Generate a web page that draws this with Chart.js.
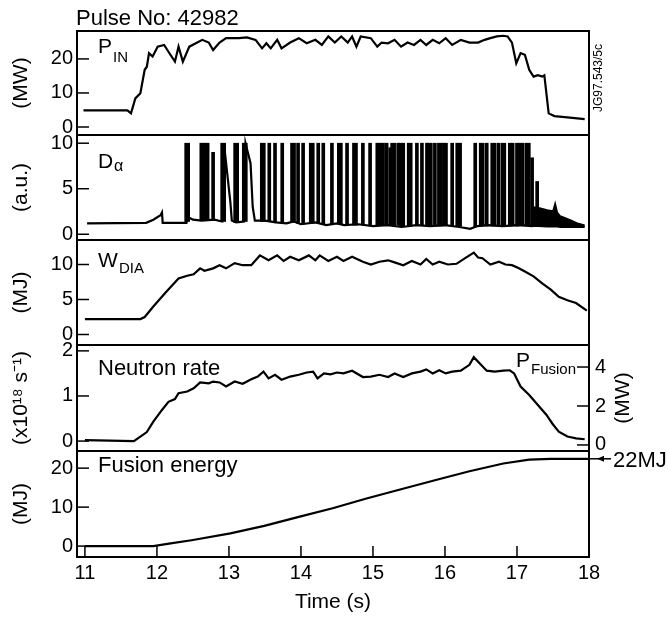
<!DOCTYPE html>
<html>
<head>
<meta charset="utf-8">
<script src="https://cdn.jsdelivr.net/npm/chart.js@4.4.1/dist/chart.umd.min.js"></script>
<style>
  body { margin: 0; background: #fff; }
  #wrap { position: relative; width: 669px; height: 621px; overflow: hidden; }
  #wrap canvas { position: absolute; left: 0; }
</style>
</head>
<body>
<div id="wrap"></div>
<script>
const FONT = '"Liberation Sans", Arial, sans-serif';

// time axis (s)
const xMin = 10.89, xMax = 18.0;
const timeTicks = [11, 12, 13, 14, 15, 16, 17, 18];

// P_IN (MW)
const pinTime = [10.98, 11.59, 11.64, 11.70, 11.77, 11.83, 11.86, 11.89, 11.94, 12.01,
  12.10, 12.16, 12.25, 12.30, 12.36, 12.45, 12.54, 12.63, 12.72, 12.78,
  12.87, 12.96, 13.14, 13.25, 13.37, 13.46, 13.52, 13.58, 13.67, 13.73,
  13.85, 13.97, 14.08, 14.20, 14.29, 14.38, 14.47, 14.56, 14.65, 14.71,
  14.77, 14.83, 14.97, 15.06, 15.12, 15.21, 15.30, 15.39, 15.48, 15.57,
  15.66, 15.74, 15.83, 15.92, 16.01, 16.10, 16.22, 16.34, 16.46, 16.55,
  16.63, 16.72, 16.81, 16.87, 16.93, 16.99, 17.05, 17.11, 17.17, 17.23,
  17.29, 17.35, 17.38, 17.44, 17.52, 17.70, 17.94];
const pinValue = [4.9, 4.9, 4.0, 8.4, 9.9, 16.8, 17.7, 21.7, 20.7, 23.6,
  24.1, 22.1, 19.2, 23.6, 19.2, 23.6, 24.6, 25.6, 24.8, 22.6,
  24.8, 26.1, 26.1, 26.3, 25.6, 23.1, 24.6, 23.1, 25.6, 23.1,
  24.8, 26.1, 24.6, 25.6, 24.1, 26.6, 24.8, 26.6, 24.8, 26.6,
  23.6, 26.6, 26.1, 23.6, 24.8, 24.6, 25.6, 23.6, 24.8, 24.1,
  25.6, 24.1, 25.6, 24.6, 26.1, 24.1, 25.6, 24.8, 24.8, 25.6,
  26.1, 26.6, 26.8, 26.6, 24.8, 18.7, 21.7, 21.2, 16.8, 14.8,
  15.2, 14.8, 15.2, 4.0, 3.2, 2.8, 2.3];

// D_alpha (a.u.) - baseline trace
const daTime = [11.03, 11.85, 11.95, 12.05, 12.07, 12.08, 12.41, 12.43, 12.50, 12.62,
  12.80, 12.90, 12.91, 12.93, 13.02, 13.04, 13.10, 13.21, 13.23, 13.30,
  13.33, 13.36, 13.50, 13.65, 13.80, 13.90, 14.00, 14.20, 14.35, 14.50,
  14.60, 14.80, 15.00, 15.20, 15.40, 15.60, 15.80, 16.00, 16.20, 16.35,
  16.45, 16.60, 16.80, 17.00, 17.22];
const daValue = [1.2, 1.25, 1.6, 2.1, 2.4, 1.25, 1.25, 1.9, 1.6, 1.5,
  1.6, 1.4, 1.4, 10, 3.5, 1.5, 1.3, 1.4, 10, 7.8,
  3.0, 1.5, 1.5, 1.3, 1.2, 1.4, 1.1, 1.3, 1.0, 1.2,
  1.0, 1.1, 0.9, 1.0, 0.8, 1.0, 0.9, 1.0, 0.8, 0.6,
  0.9, 1.0, 0.9, 1.0, 0.9];
// D_alpha ELM bursts
const elmTime = [12.42, 12.63, 12.69, 12.78, 12.92, 13.10, 13.22, 13.47, 13.56, 13.64,
  13.74, 13.89, 13.96, 14.03, 14.15, 14.24, 14.31, 14.43, 14.54, 14.64,
  14.75, 14.86, 14.96, 15.06, 15.10, 15.14, 15.19, 15.24, 15.28, 15.35,
  15.38, 15.42, 15.51, 15.61, 15.68, 15.75, 15.79, 15.86, 15.93, 16.00,
  16.10, 16.17, 16.21, 16.42, 16.51, 16.58, 16.67, 16.74, 16.81, 16.90,
  16.94, 17.00, 17.04, 17.08, 17.15, 17.21, 17.28];
const elmPeak = [10, 10, 10, 9, 10, 10, 10, 10, 10, 10,
  10, 10, 10, 10, 10, 10, 10, 10, 10, 10,
  10, 10, 10, 10, 10, 10, 10, 9.5, 10, 10,
  10, 10, 10, 10, 10, 10, 10, 10, 10, 10,
  10, 10, 10, 10, 10, 10, 10, 10, 10, 10,
  10, 10, 10, 10, 10, 8.4, 5.8];
const elmBase = [1.4, 1.5, 1.5, 1.5, 1.4, 1.3, 1.4, 1.4, 1.4, 1.3,
  1.2, 1.3, 1.2, 1.1, 1.2, 1.2, 1.1, 1.1, 1.1, 1.0,
  1.0, 1.0, 1.0, 1.0, 1.0, 1.0, 1.0, 1.0, 1.0, 1.0,
  0.9, 0.9, 0.9, 1.0, 1.0, 0.9, 0.9, 0.9, 0.9, 1.0,
  1.0, 0.9, 0.9, 0.8, 0.9, 0.9, 0.9, 0.9, 0.9, 0.9,
  0.9, 0.9, 1.0, 1.0, 1.0, 0.9, 0.9];
const elmWide = [1, 1, 1, 0, 1, 1, 1, 1, 0, 0,
  0, 1, 0, 0, 1, 0, 0, 0, 1, 0,
  1, 0, 0, 0, 0, 0, 0, 0, 1, 0,
  0, 0, 1, 0, 0, 0, 1, 0, 1, 1,
  0, 0, 0, 0, 1, 0, 1, 0, 1, 0,
  0, 0, 0, 0, 1, 0, 0];
// D_alpha dense grassy ELMs at the end of the pulse
const daTailTime = [17.22, 17.30, 17.42, 17.50, 17.53, 17.56, 17.60, 17.74, 17.83, 17.94];
const daTailTop = [3.0, 2.9, 2.67, 2.56, 3.4, 2.4, 2.0, 1.57, 1.24, 1.0];
const daTailBottom = [0.9, 0.9, 0.85, 0.85, 0.85, 0.85, 0.8, 0.8, 0.8, 0.8];

// W_DIA (MJ)
const wdiaTime = [11.00, 11.77, 11.83, 11.95, 12.13, 12.30, 12.42, 12.51, 12.60, 12.66,
  12.78, 12.87, 12.96, 13.08, 13.19, 13.31, 13.43, 13.55, 13.67, 13.76,
  13.85, 13.97, 14.11, 14.20, 14.26, 14.38, 14.50, 14.59, 14.71, 14.86,
  14.97, 15.09, 15.21, 15.30, 15.42, 15.54, 15.66, 15.74, 15.83, 15.92,
  16.04, 16.16, 16.28, 16.40, 16.46, 16.52, 16.63, 16.75, 16.84, 16.93,
  17.02, 17.11, 17.23, 17.35, 17.47, 17.58, 17.70, 17.82, 17.97];
const wdiaValue = [2.2, 2.2, 2.5, 4.0, 6.1, 8.0, 8.4, 8.6, 9.45, 9.1,
  9.45, 9.9, 9.45, 10.2, 9.9, 9.9, 11.3, 10.6, 11.3, 10.5,
  11.1, 10.6, 11.3, 10.6, 11.3, 10.5, 11.1, 10.5, 11.1, 10.4,
  10.0, 10.4, 10.6, 10.3, 9.9, 10.5, 10.0, 10.8, 10.0, 10.4,
  10.0, 10.1, 10.9, 11.7, 11.0, 10.9, 10.0, 10.4, 10.0, 9.9,
  9.5, 9.0, 8.3, 7.3, 6.4, 5.4, 4.9, 4.5, 3.4];

// Neutron rate (x10^18 s^-1)
const neutTime = [11.00, 11.68, 11.77, 11.86, 11.95, 12.07, 12.16, 12.25, 12.30, 12.42,
  12.51, 12.60, 12.72, 12.78, 12.87, 12.96, 13.08, 13.19, 13.31, 13.40,
  13.48, 13.55, 13.64, 13.73, 13.85, 13.97, 14.08, 14.17, 14.23, 14.32,
  14.41, 14.50, 14.59, 14.71, 14.86, 14.97, 15.09, 15.21, 15.30, 15.42,
  15.54, 15.66, 15.74, 15.83, 15.92, 16.01, 16.10, 16.22, 16.34, 16.40,
  16.49, 16.58, 16.69, 16.81, 16.90, 16.96, 17.05, 17.17, 17.29, 17.41,
  17.49, 17.58, 17.70, 17.82, 17.94];
const neutValue = [0.02, 0.0, 0.1, 0.2, 0.43, 0.69, 0.87, 0.93, 1.06, 1.1,
  1.17, 1.3, 1.28, 1.32, 1.3, 1.21, 1.32, 1.27, 1.37, 1.43,
  1.54, 1.39, 1.47, 1.36, 1.43, 1.47, 1.52, 1.54, 1.39, 1.5,
  1.48, 1.52, 1.5, 1.56, 1.42, 1.43, 1.47, 1.42, 1.5, 1.42,
  1.5, 1.54, 1.59, 1.5, 1.57, 1.5, 1.54, 1.56, 1.69, 1.86,
  1.71, 1.56, 1.54, 1.56, 1.57, 1.5, 1.21, 1.02, 0.8, 0.58,
  0.39, 0.21, 0.1, 0.06, 0.04];

// Fusion energy (MJ)
const feTime = [11.00, 11.95, 12.19, 12.48, 13.02, 13.49, 13.97, 14.44, 14.91, 15.39, 15.86, 16.34, 16.81, 17.17, 17.47, 18.00];
const feValue = [0, 0, 0.68, 1.5, 3.25, 5.2, 7.5, 9.7, 12.2, 14.6, 16.9, 19.2, 21.2, 22.2, 22.4, 22.4];

// axis ticks
const pinTicks = [0, 10, 20];
const daTicks = [0, 5, 10];
const wdiaTicks = [0, 5, 10];
const neutTicks = [0, 1, 2];
const pfusTicks = [0, 2, 4];
const feTicks = [0, 10, 20];

const W = 669;
const panelTop = [31, 135, 240, 345, 451];
const panelBottom = [135, 240, 345, 451, 557];
const wrap = document.getElementById('wrap');

function xy(ts, vs) {
  return ts.map((t, i) => ({ x: t, y: vs[i] }));
}

function lineSet(ts, vs, extra) {
  return Object.assign({
    type: 'line', data: xy(ts, vs), borderColor: '#000', borderWidth: 2.2,
    pointRadius: 0, fill: false, tension: 0
  }, extra || {});
}

function elmBars(wide) {
  const pts = [];
  elmTime.forEach((t, i) => {
    if (elmWide[i] === wide) pts.push({ x: t, y: [elmBase[i], elmPeak[i]] });
  });
  return {
    type: 'bar', data: pts, backgroundColor: '#000', borderWidth: 0,
    barThickness: wide ? 5 : 3, grouped: false
  };
}

function fixedTicks(values) {
  return s => { s.ticks = values.map(v => ({ value: v })); };
}

function boxPlugin(offset, texts, extra) {
  return {
    id: 'box',
    afterDraw(chart) {
      const { ctx, chartArea: a } = chart;
      ctx.save();
      ctx.strokeStyle = '#000';
      ctx.fillStyle = '#000';
      ctx.lineWidth = 1.5;
      // inward tick marks
      Object.values(chart.scales).forEach(s => {
        if (!s.options.display) return;
        s.ticks.forEach(t => {
          const p = s.getPixelForValue(t.value);
          ctx.beginPath();
          if (s.position === 'left') { ctx.moveTo(a.left, p); ctx.lineTo(a.left + 12, p); }
          else if (s.position === 'right') { ctx.moveTo(a.right - 12, p); ctx.lineTo(a.right, p); }
          else { ctx.moveTo(p, a.bottom); ctx.lineTo(p, a.bottom - 11); }
          ctx.stroke();
        });
      });
      ctx.lineWidth = 2;
      ctx.strokeRect(a.left, a.top, a.right - a.left, a.bottom - a.top);
      texts.forEach(tx => {
        ctx.save();
        ctx.font = tx.size + 'px ' + FONT;
        ctx.textAlign = tx.align || 'left';
        ctx.textBaseline = tx.base || 'alphabetic';
        ctx.translate(tx.x, tx.y - offset);
        if (tx.rot) ctx.rotate(tx.rot);
        ctx.fillText(tx.text, 0, 0);
        ctx.restore();
      });
      if (extra) extra(ctx, chart, offset);
      ctx.restore();
    }
  };
}

function panel(i, cfg) {
  const cTop = i === 0 ? 0 : panelTop[i] - 20;
  const cBottom = i === 4 ? 621 : panelBottom[i] + 20;
  const canvas = document.createElement('canvas');
  canvas.width = W;
  canvas.height = cBottom - cTop;
  canvas.style.top = cTop + 'px';
  wrap.appendChild(canvas);

  const tickFont = { family: FONT, size: 20 };
  const titleFont = { family: FONT, size: 21 };
  const noGrid = { display: false, drawTicks: false };
  const scales = {
    x: {
      type: 'linear', min: xMin, max: xMax, offset: false, display: i === 4,
      grid: noGrid, border: { display: false },
      afterBuildTicks: fixedTicks(timeTicks),
      afterFit: s => { if (i === 4) s.height = 64; },
      ticks: { font: tickFont, color: '#000', padding: 4, autoSkip: false, maxRotation: 0 },
      title: { display: true, text: 'Time (s)', font: titleFont, color: '#000', padding: { top: 0, bottom: 6 } }
    },
    y: {
      type: 'linear', position: 'left', min: cfg.yMin, max: cfg.yMax,
      grid: noGrid, border: { display: false },
      afterBuildTicks: fixedTicks(cfg.yTicks),
      afterFit: s => { s.width = 77; },
      ticks: { font: tickFont, color: '#000', padding: 4 },
      title: { display: true, text: cfg.yTitle, font: titleFont, color: '#000', padding: { top: 9, bottom: 0 } }
    }
  };
  if (cfg.right) {
    scales.y1 = {
      type: 'linear', position: 'right', min: cfg.right.min, max: cfg.right.max,
      grid: noGrid, border: { display: false },
      afterBuildTicks: fixedTicks(cfg.right.ticks),
      afterFit: s => { s.width = 80; },
      ticks: { font: tickFont, color: '#000', padding: 6 }
    };
  }

  return new Chart(canvas, {
    type: 'line',
    data: { datasets: cfg.datasets },
    options: {
      responsive: false,
      animation: false,
      events: [],
      layout: {
        padding: {
          top: panelTop[i] - cTop,
          bottom: i === 4 ? 0 : cBottom - panelBottom[i],
          left: 0,
          right: cfg.right ? 0 : 80
        }
      },
      scales: scales,
      plugins: { legend: { display: false }, tooltip: { enabled: false } }
    },
    plugins: [boxPlugin(cTop, cfg.texts || [], cfg.extra)]
  });
}

// P_IN
panel(0, {
  yMin: -2.35, yMax: 28.2, yTicks: pinTicks, yTitle: '(MW)',
  datasets: [lineSet(pinTime, pinValue)],
  texts: [
    { text: 'Pulse No: 42982', x: 76, y: 25, size: 22 },
    { text: 'P', x: 98, y: 53, size: 21 },
    { text: 'IN', x: 113, y: 62, size: 15 },
    { text: 'JG97.543/5c', x: 602, y: 112, size: 12, rot: -Math.PI / 2 }
  ]
});

// D_alpha
panel(1, {
  yMin: -0.63, yMax: 10.9, yTicks: daTicks, yTitle: '(a.u.)',
  datasets: [
    lineSet(daTime, daValue),
    elmBars(1),
    elmBars(0),
    lineSet(daTailTime, daTailTop, { borderWidth: 1.5, fill: '+1', backgroundColor: '#000' }),
    lineSet(daTailTime, daTailBottom, { borderWidth: 2 })
  ],
  texts: [
    { text: 'D', x: 98, y: 168, size: 21 },
    { text: 'α', x: 114, y: 171, size: 16 }
  ]
});

// W_DIA
panel(2, {
  yMin: -1.5, yMax: 13.5, yTicks: wdiaTicks, yTitle: '(MJ)',
  datasets: [lineSet(wdiaTime, wdiaValue)],
  texts: [
    { text: 'W', x: 98, y: 267, size: 21 },
    { text: 'DIA', x: 119, y: 273, size: 15 }
  ]
});

// Neutron rate / P_Fusion
panel(3, {
  yMin: -0.22, yMax: 2.13, yTicks: neutTicks, yTitle: '(x10¹⁸ s⁻¹)',
  right: { min: -0.31, max: 5.13, ticks: pfusTicks },
  datasets: [lineSet(neutTime, neutValue)],
  texts: [
    { text: 'Neutron rate', x: 98, y: 375, size: 22 },
    { text: 'P', x: 516, y: 367, size: 21 },
    { text: 'Fusion', x: 531, y: 374, size: 15 },
    { text: '(MW)', x: 623, y: 398, size: 21, rot: -Math.PI / 2, align: 'center', base: 'middle' }
  ]
});

// Fusion energy
panel(4, {
  yMin: -2.8, yMax: 24.4, yTicks: feTicks, yTitle: '(MJ)',
  datasets: [lineSet(feTime, feValue)],
  texts: [
    { text: 'Fusion energy', x: 98, y: 472, size: 22 },
    { text: '22MJ', x: 613, y: 467, size: 22 }
  ],
  extra: (ctx, chart, offset) => {
    const a = chart.chartArea;
    const y = chart.scales.y.getPixelForValue(feValue[feValue.length - 1]);
    ctx.lineWidth = 1.5;
    ctx.beginPath();
    ctx.moveTo(a.right, y);
    ctx.lineTo(a.right + 22, y);
    ctx.stroke();
    ctx.beginPath();
    ctx.moveTo(a.right + 8, y);
    ctx.lineTo(a.right + 15, y - 3);
    ctx.lineTo(a.right + 15, y + 3);
    ctx.closePath();
    ctx.fill();
  }
});
</script>
</body>
</html>
